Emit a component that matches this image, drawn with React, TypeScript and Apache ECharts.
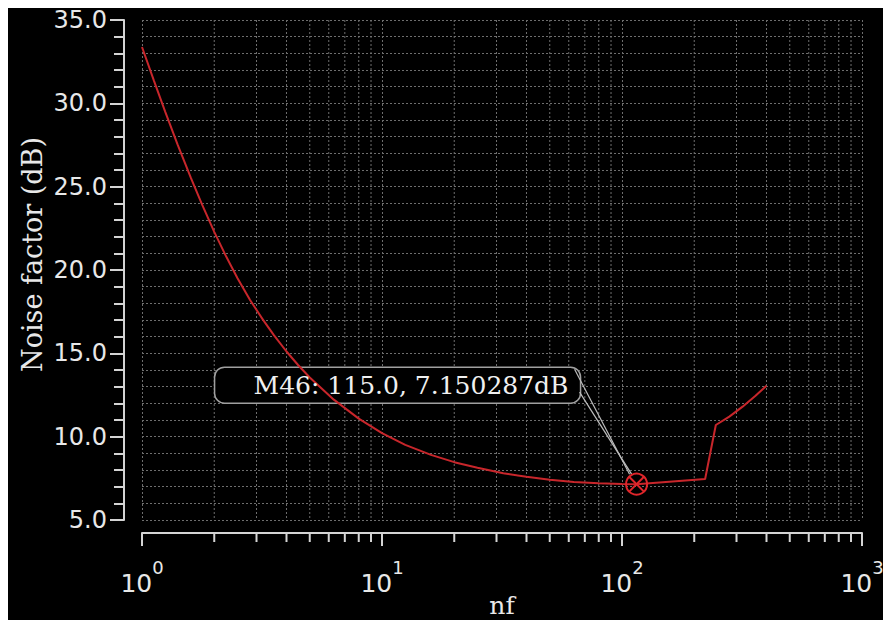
import React, { useEffect, useRef } from "react";
import * as echarts from "echarts";

// nf sweep (x) and noise factor in dB (y)
const nfValues = [
  1, 1.12, 1.25, 1.41, 1.6, 1.78, 2, 2.24, 2.5, 2.82, 3.2, 3.55, 4, 4.47, 5,
  6.3, 8, 10, 12.5, 16, 20, 25, 32, 40, 50, 63, 80, 100, 115, 222, 246, 280,
  318, 360, 400,
];
const noiseFactorDb = [
  33.38, 31.38, 29.49, 27.49, 25.51, 23.92, 22.29, 20.82, 19.51, 18.2, 16.99,
  16.08, 15.11, 14.3, 13.55, 12.22, 11.08, 10.21, 9.51, 8.91, 8.47, 8.13, 7.81,
  7.59, 7.42, 7.28, 7.2, 7.16, 7.150287, 7.46, 10.7, 11.2, 11.8, 12.45, 13.06,
];

// minor decade positions for the log axis (ticks + grid lines)
const minorDecadeValues = [
  2, 3, 4, 5, 6, 7, 8, 9, 20, 30, 40, 50, 60, 70, 80, 90, 200, 300, 400, 500,
  600, 700, 800, 900,
];

// marker
const markerName = "M46";
const markerNf = 115.0;
const markerDb = 7.150287;

const X_MIN = 1;
const X_MAX = 1000;
const Y_MIN = 5;
const Y_MAX = 35;
const Y_STEP = 5;

const AXIS = "#d4d4d4";
const LABEL = "#e8e8e8";
const GRID = "#6e6e6e";
const RED = "#c8262b";
const MARK = "#e0262b";

export default function App() {
  const ref = useRef<HTMLDivElement>(null);

  useEffect(() => {
    if (!ref.current) return;
    const chart = echarts.init(ref.current, null, { renderer: "svg" });
    const curve = nfValues.map((x, i) => [x, noiseFactorDb[i]]);

    chart.setOption({
      animation: false,
      backgroundColor: "#000",
      grid: {
        left: 134,
        top: 12,
        right: 21,
        bottom: 100,
        containLabel: false,
        outerBoundsMode: "none",
      },
      xAxis: {
        type: "log",
        logBase: 10,
        min: X_MIN,
        max: X_MAX,
        offset: 13,
        name: "nf",
        nameLocation: "middle",
        nameGap: 60,
        nameMoveOverlap: false,
        nameTextStyle: {
          fontFamily: "DejaVu Serif",
          fontSize: 25,
          lineHeight: 25,
          color: LABEL,
        },
        axisLine: { show: true, onZero: false, lineStyle: { color: AXIS, width: 2 } },
        axisTick: { show: true, length: 13, lineStyle: { color: AXIS, width: 2 } },
        minorTick: { show: false },
        axisLabel: {
          margin: 25,
          formatter: (v: number) => `{b|10}{s|${Math.round(Math.log10(v))}}`,
          rich: {
            b: {
              fontFamily: "DejaVu Sans",
              fontSize: 25,
              lineHeight: 38,
              color: LABEL,
              verticalAlign: "bottom",
            },
            s: {
              fontFamily: "DejaVu Sans",
              fontSize: 18,
              lineHeight: 16,
              color: LABEL,
              verticalAlign: "top",
            },
          },
        },
        splitLine: { show: true, lineStyle: { color: GRID, width: 1, type: [2, 2] } },
      },
      yAxis: {
        type: "value",
        min: Y_MIN,
        max: Y_MAX,
        interval: Y_STEP,
        offset: 18,
        name: "Noise factor (dB)",
        nameLocation: "middle",
        nameGap: 78,
        nameMoveOverlap: false,
        nameTextStyle: {
          fontFamily: "DejaVu Serif",
          fontSize: 27,
          lineHeight: 27,
          color: LABEL,
          padding: [0, 0, 0, 31],
        },
        axisLine: { show: true, lineStyle: { color: AXIS, width: 2 } },
        axisTick: { show: true, length: 14, lineStyle: { color: AXIS, width: 2 } },
        minorTick: { show: true, splitNumber: 5, length: 10, lineStyle: { color: AXIS, width: 2 } },
        axisLabel: {
          margin: 17,
          fontFamily: "DejaVu Sans",
          fontSize: 24,
          lineHeight: 20,
          color: LABEL,
          formatter: (v: number) => v.toFixed(1),
        },
        splitLine: { show: true, lineStyle: { color: GRID, width: 1, type: [2, 2] } },
        minorSplitLine: { show: true, lineStyle: { color: GRID, width: 1, type: [2, 2] } },
      },
      series: [
        {
          type: "custom",
          name: "minor-decades",
          silent: true,
          clip: false,
          z: 1,
          data: minorDecadeValues.map((v) => [v, Y_MIN]),
          encode: { x: 0, y: 1 },
          renderItem: (_params: any, api: any) => {
            const v = api.value(0);
            const b = api.coord([v, Y_MIN]);
            const t = api.coord([v, Y_MAX]);
            return {
              type: "group",
              children: [
                {
                  type: "line",
                  shape: { x1: b[0], y1: t[1], x2: b[0], y2: b[1] },
                  style: { stroke: GRID, lineWidth: 1, lineDash: [2, 2] },
                },
                {
                  type: "line",
                  shape: { x1: b[0], y1: b[1] + 13, x2: b[0], y2: b[1] + 22 },
                  style: { stroke: AXIS, lineWidth: 2 },
                },
              ],
            };
          },
        },
        {
          type: "custom",
          name: "marker-box",
          silent: true,
          clip: false,
          z: 1.5,
          data: [[markerNf, markerDb]],
          encode: { x: 0, y: 1 },
          renderItem: (_params: any, api: any) => {
            const p = api.coord([api.value(0), api.value(1)]);
            return {
              type: "rect",
              shape: { x: p[0] - 422, y: p[1] - 117, width: 366, height: 36, r: 10 },
              style: { fill: "#000", stroke: "#a0a0a0", lineWidth: 1.5 },
            };
          },
        },
        {
          type: "line",
          name: "Noise factor",
          data: curve,
          showSymbol: false,
          symbol: "none",
          smooth: false,
          z: 3,
          lineStyle: { color: RED, width: 2 },
        },
        {
          type: "custom",
          name: "marker",
          silent: true,
          clip: false,
          z: 4,
          data: [[markerNf, markerDb]],
          encode: { x: 0, y: 1 },
          renderItem: (_params: any, api: any) => {
            const x = api.value(0);
            const y = api.value(1);
            const p = api.coord([x, y]);
            const cx = p[0];
            const cy = p[1];
            const r = 10.5;
            const d = r * 0.7071;
            return {
              type: "group",
              children: [
                {
                  type: "line",
                  shape: { x1: cx - 62, y1: cy - 115, x2: cx - 7, y2: cy - 10 },
                  style: { stroke: "#bdbdbd", lineWidth: 1.2 },
                },
                {
                  type: "line",
                  shape: { x1: cx - 57, y1: cy - 92, x2: cx - 5, y2: cy - 10 },
                  style: { stroke: "#bdbdbd", lineWidth: 1.2 },
                },
                {
                  type: "text",
                  x: cx - 383,
                  y: cy - 98.5,
                  style: {
                    text: `${markerName}: ${x.toFixed(1)}, ${markerDb}dB`,
                    fill: "#f0f0f0",
                    font: '25px "DejaVu Serif"',
                    align: "left",
                    verticalAlign: "middle",
                  },
                },
                {
                  type: "circle",
                  shape: { cx, cy, r },
                  style: { fill: "none", stroke: MARK, lineWidth: 2 },
                },
                {
                  type: "line",
                  shape: { x1: cx - d, y1: cy - d, x2: cx + d, y2: cy + d },
                  style: { stroke: MARK, lineWidth: 2 },
                },
                {
                  type: "line",
                  shape: { x1: cx - d, y1: cy + d, x2: cx + d, y2: cy - d },
                  style: { stroke: MARK, lineWidth: 2 },
                },
              ],
            };
          },
        },
      ],
    });

    return () => chart.dispose();
  }, []);

  return (
    <div
      ref={ref}
      style={{
        position: "fixed",
        left: 8,
        top: 8,
        width: 875,
        height: 612,
        background: "#000",
      }}
    />
  );
}
